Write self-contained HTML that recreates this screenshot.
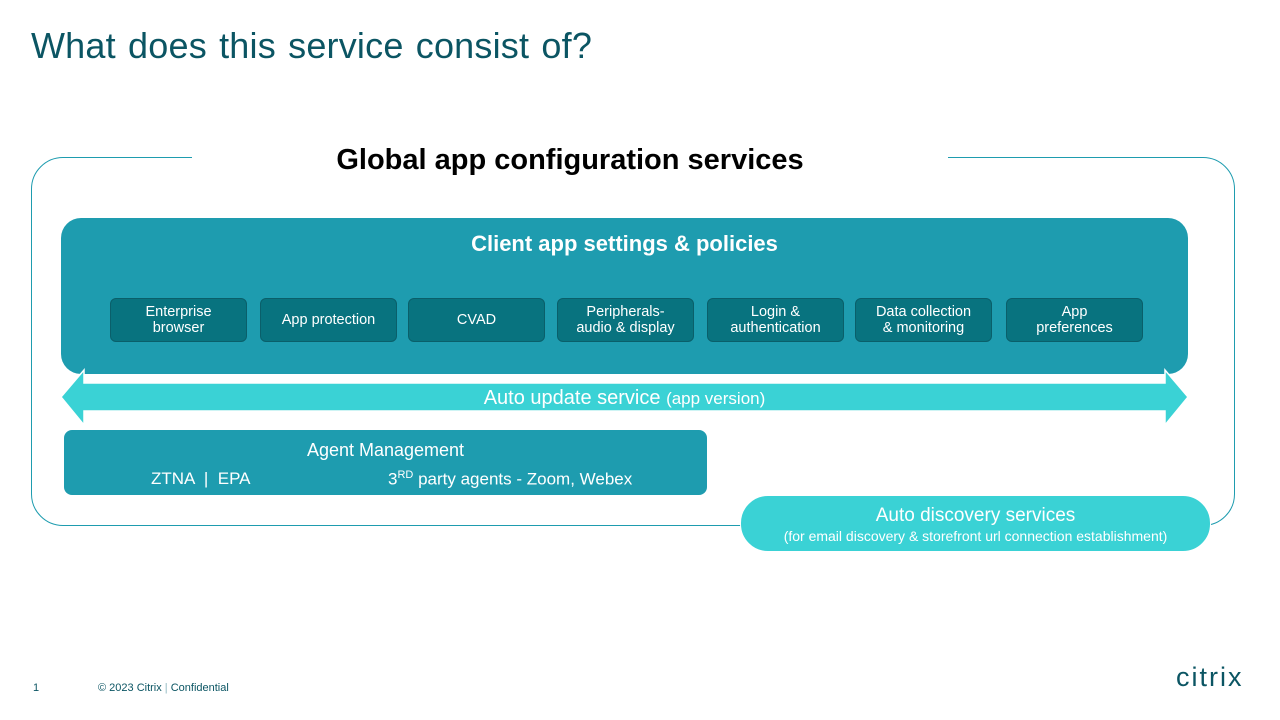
<!DOCTYPE html>
<html><head><meta charset="utf-8"><style>
*{margin:0;padding:0;box-sizing:border-box}
body{width:1280px;height:720px;background:#fff;position:relative;overflow:hidden;font-family:"Liberation Sans",Arial,sans-serif}
.a{position:absolute}
.sb{position:absolute;top:298px;width:137px;height:44px;background:#08737f;border:1.5px solid #0a5f6a;border-radius:6px;color:#fff;font-size:14.5px;line-height:16px;display:flex;align-items:center;justify-content:center;text-align:center}
</style></head><body>
<div class="a" style="left:31px;top:25px;font-size:36px;color:#0b5563;word-spacing:2px;letter-spacing:0.2px">What does this service consist of?</div>
<div class="a" style="left:31px;top:157px;width:1204px;height:369px;border:1.5px solid #1e9caf;border-radius:32px"></div>
<div class="a" style="left:192px;top:150px;width:756px;height:14px;background:#fff"></div>
<div class="a" style="left:182px;top:144px;width:776px;text-align:center;font-size:29px;font-weight:bold;color:#000">Global app configuration services</div>
<div class="a" style="left:61px;top:218px;width:1127px;height:156px;background:#1e9caf;border-radius:20px"></div>
<div class="a" style="left:61px;top:231px;width:1127px;text-align:center;font-size:22px;font-weight:bold;color:#fff">Client app settings &amp; policies</div>
<div class="sb" style="left:110px">Enterprise<br>browser</div>
<div class="sb" style="left:260px">App protection</div>
<div class="sb" style="left:408px">CVAD</div>
<div class="sb" style="left:557px">Peripherals-<br>audio &amp; display</div>
<div class="sb" style="left:707px">Login &amp;<br>authentication</div>
<div class="sb" style="left:855px">Data collection<br>&amp; monitoring</div>
<div class="sb" style="left:1006px">App<br>preferences</div>
<svg class="a" style="left:0;top:0" width="1280" height="720"><polygon points="61,397 84,370 84,383 1165,383 1165,370 1188,397 1165,425 1165,411 84,411 84,425" fill="#3ad2d5" stroke="#fff" stroke-width="1.5"/></svg>
<div class="a" style="left:61px;top:387px;width:1127px;text-align:center;font-size:20px;color:#fff">Auto update service <span style="font-size:17px">(app version)</span></div>
<div class="a" style="left:64px;top:430px;width:643px;height:65px;background:#1e9caf;border-radius:8px"></div>
<div class="a" style="left:64px;top:440px;width:643px;text-align:center;font-size:18px;color:#fff">Agent Management</div>
<div class="a" style="left:151px;top:469px;font-size:17px;color:#fff">ZTNA &nbsp;| &nbsp;EPA</div>
<div class="a" style="left:388px;top:469px;font-size:17px;color:#fff">3<sup style="font-size:11px">RD</sup> party agents - Zoom, Webex</div>
<div class="a" style="left:740px;top:495px;width:471px;height:57px;background:#3ad2d5;border:1px solid #fff;border-radius:28px;color:#fff;text-align:center"><div style="font-size:19px;margin-top:9px">Auto discovery services</div><div style="font-size:14px;margin-top:1px">(for email discovery &amp; storefront url connection establishment)</div></div>
<div class="a" style="left:33px;top:682px;font-size:11px;color:#0b5563">1</div>
<div class="a" style="left:98px;top:682px;font-size:11px;color:#0b5563">© 2023 Citrix <span style="color:#8fb8c0">|</span> Confidential</div>
<div class="a" style="left:1176px;top:662px;font-size:27px;color:#0b5563;letter-spacing:2px;font-weight:300">citrix</div>
</body></html>
